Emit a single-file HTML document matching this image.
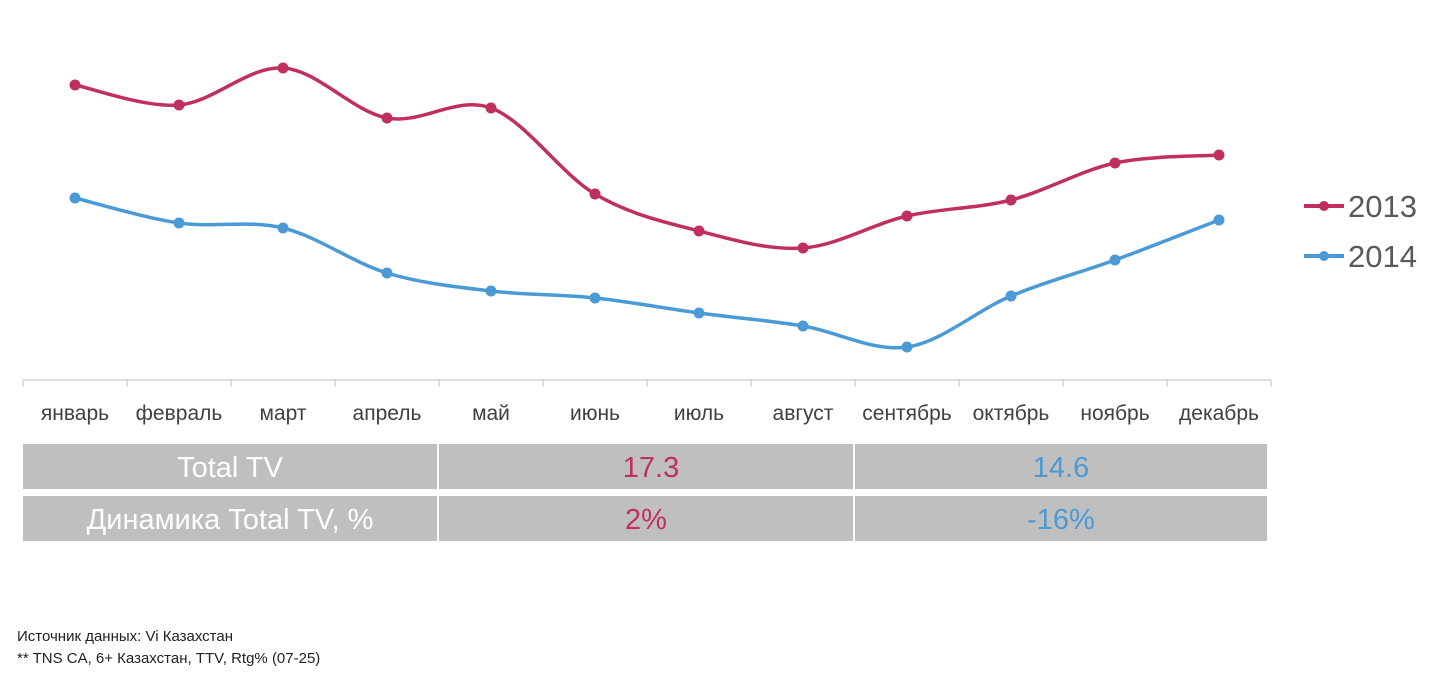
<!DOCTYPE html>
<html><head><meta charset="utf-8"><style>
body{margin:0;background:#fff;width:1447px;height:676px;overflow:hidden;font-family:"Liberation Sans",sans-serif;}
svg{position:absolute;left:0;top:0}
</style></head><body>
<svg width="1447" height="676" id="chart">
<g id="axis"></g>
<g id="series"></g>
<g>
 <g>
  <line x1="1304" y1="206" x2="1344" y2="206" stroke="#c0305c" stroke-width="4"/>
  <circle cx="1324" cy="206" r="5" fill="#c0305c"/>
  <text x="1348" y="217" font-size="31" fill="#595959" font-family="Liberation Sans, sans-serif">2013</text>
 </g>
 <g>
  <line x1="1304" y1="256" x2="1344" y2="256" stroke="#4a9ad6" stroke-width="4"/>
  <circle cx="1324" cy="256" r="5" fill="#4a9ad6"/>
  <text x="1348" y="267" font-size="31" fill="#595959" font-family="Liberation Sans, sans-serif">2014</text>
 </g>
</g>
<g>
 <rect x="23" y="444" width="414" height="45" fill="#bfbfbf"/>
 <rect x="439" y="444" width="414" height="45" fill="#bfbfbf"/>
 <rect x="855" y="444" width="412" height="45" fill="#bfbfbf"/>
 <rect x="23" y="496" width="414" height="45" fill="#bfbfbf"/>
 <rect x="439" y="496" width="414" height="45" fill="#bfbfbf"/>
 <rect x="855" y="496" width="412" height="45" fill="#bfbfbf"/>
 <g font-size="29" text-anchor="middle" font-family="Liberation Sans, sans-serif">
  <text x="230" y="477" fill="#fff">Total TV</text>
  <text x="651" y="477" fill="#c0305c">17.3</text>
  <text x="1061" y="477" fill="#4a9ad6">14.6</text>
  <text x="230" y="529" fill="#fff">Динамика Total TV, %</text>
  <text x="646" y="529" fill="#c0305c">2%</text>
  <text x="1061" y="529" fill="#4a9ad6">-16%</text>
 </g>
</g>
<g font-size="15" fill="#222" font-family="Liberation Sans, sans-serif">
 <text x="17" y="641">Источник данных: Vi Казахстан</text>
 <text x="17" y="663">** TNS CA, 6+ Казахстан, TTV, Rtg% (07-25)</text>
</g>
</svg>
<script>
const categories=["январь","февраль","март","апрель","май","июнь","июль","август","сентябрь","октябрь","ноябрь","декабрь"];
const series2013=[14.75,13.75,15.6,13.1,13.6,9.3,7.45,6.6,8.2,9.0,10.85,11.25];
const series2014=[9.1,7.85,7.6,5.35,4.45,4.1,3.35,2.7,1.65,4.2,6.0,8.0];
const NS="http://www.w3.org/2000/svg";
const x0=23,x1=1271,yBase=380,k=20;
const step=(x1-x0)/categories.length;
const xs=i=>x0+step*(i+0.5);
const ys=v=>yBase-v*k;
const ax=document.getElementById('axis');
function mk(t,a,p){const e=document.createElementNS(NS,t);for(const q in a)e.setAttribute(q,a[q]);p.appendChild(e);return e;}
const base=mk('line',{x1:x0,y1:yBase,x2:x1,y2:yBase,stroke:'#bfbfbf','stroke-width':1},ax);


for(let i=0;i<=categories.length;i++){const t=mk('line',{x1:x0+step*i,y1:yBase,x2:x0+step*i,y2:yBase+7,stroke:'#bfbfbf'},ax);

}
categories.forEach((c,i)=>{const t=mk('text',{x:xs(i),y:420,'text-anchor':'middle','font-size':21,fill:'#404040','font-family':'Liberation Sans, sans-serif'},ax);t.textContent=c;

});
const sg=document.getElementById('series');
function draw(vals,color,name){
 const p=vals.map((v,i)=>[xs(i),ys(v)]);
 let d=`M${p[0][0]},${p[0][1]}`;
 for(let i=0;i<p.length-1;i++){const a=p[Math.max(i-1,0)],b=p[i],c=p[i+1],e=p[Math.min(i+2,p.length-1)];
  const t=1/6;d+=` C${b[0]+(c[0]-a[0])*t},${b[1]+(c[1]-a[1])*t} ${c[0]-(e[0]-b[0])*t},${c[1]-(e[1]-b[1])*t} ${c[0]},${c[1]}`;}
 const path=mk('path',{d:d,fill:'none',stroke:color,'stroke-width':3.5},sg);
 
 
 p.forEach(q=>{const c=mk('circle',{cx:q[0],cy:q[1],r:5.5,fill:color},sg);
 
 });
}
draw(series2013,'#c0305c','series-2013');
draw(series2014,'#4a9ad6','series-2014');
</script>
</body></html>
